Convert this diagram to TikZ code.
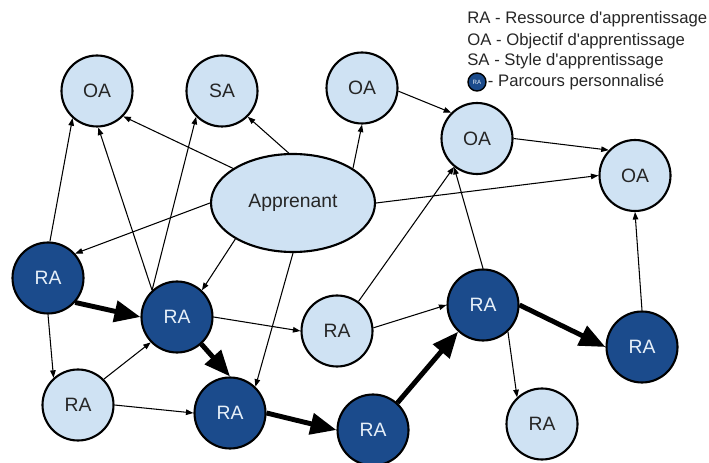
\documentclass[tikz,border=0pt]{standalone}
\usepackage{fontspec}
\setmainfont{Liberation Sans}
\usetikzlibrary{arrows.meta}
\usetikzlibrary{shapes.geometric}
\definecolor{clair}{HTML}{CFE2F3}
\definecolor{fonce}{HTML}{1B4B8C}

\begin{document}
\begin{tikzpicture}[
        bulle/.style={circle, draw, line width=1.2pt, minimum size=1.42cm, inner sep=0pt,
            fill=clair, text=black!85, font=\fontsize{11}{13}\selectfont},
        perso/.style={bulle, fill=fonce, text=clair!50!white},
        lien/.style={-{Triangle[length=1.5mm, width=1.1mm]}, line width=0.6pt},
        parcours/.style={-{Triangle[length=5.2mm, width=4.2mm]}, line width=2.8pt},
        legende/.style={anchor=west, inner sep=0pt, text=black!85, font=\fontsize{9.5}{11}\selectfont}]
            \useasboundingbox (0,0) rectangle (14.18,9.24);
            \node[bulle]                 (oa_1) at (1.94,7.42)  {OA};
            \node[bulle]                 (sa)   at (4.44,7.42)  {SA};
            \node[bulle]                 (oa_2) at (7.24,7.48)  {OA};
            \node[bulle]                 (oa_3) at (9.54,6.47)  {OA};
            \node[bulle]                 (oa_4) at (12.70,5.73) {OA};
            \node[ellipse, draw, line width=1.2pt, fill=clair, text=black!85,
                  minimum width=3.28cm, minimum height=1.96cm,
                  font=\fontsize{11}{13}\selectfont] (app) at (5.86,5.18) {Apprenant};
            \node[perso]                 (ra_1) at (0.96,3.68)  {RA};
            \node[perso]                 (ra_2) at (3.54,2.90)  {RA};
            \node[bulle]                 (ra_3) at (1.56,1.14)  {RA};
            \node[perso]                 (ra_4) at (4.60,0.98)  {RA};
            \node[bulle]                 (ra_5) at (6.74,2.62)  {RA};
            \node[perso]                 (ra_6) at (9.66,3.14)  {RA};
            \node[perso]                 (ra_7) at (7.46,0.64)  {RA};
            \node[bulle]                 (ra_8) at (10.84,0.76) {RA};
            \node[perso]                 (ra_9) at (12.84,2.30) {RA};
            % legende
            \node[legende]               (leg_ra) at (9.34,8.86) {RA - Ressource d\textquotesingle apprentissage};
            \node[legende]               (leg_oa) at (9.34,8.42) {OA - Objectif d\textquotesingle apprentissage};
            \node[legende]               (leg_sa) at (9.34,8.02) {SA - Style d\textquotesingle apprentissage};
            \node[circle, draw, line width=0.8pt, fill=fonce, minimum size=0.36cm, inner sep=0pt,
                  text=clair!50!white, font=\fontsize{3.5}{4}\selectfont] (leg_rond) at (9.54,7.60) {RA};
            \node[legende]               (leg_pp) at ([xshift=0.5pt]leg_rond.east) {- Parcours personnalisé};
            \path[lien]
            (ra_1.87)  edge (oa_1.228)
            (ra_2.133) edge (oa_1.272)
            (ra_2.133) edge (sa.225)
            (app.150)  edge (oa_1.316)
            (app.95)   edge (sa.315)
            (app.30)   edge (oa_2.270)
            (app.0)    edge (oa_4.180)
            (app.180)  edge (ra_1.42)
            (app.212)  edge (ra_2.47)
            (app.270)  edge (ra_4.46)
            (oa_2.-5)  edge (oa_3.135)
            (oa_3.0)   edge (oa_4.136)
            (ra_5.54)  edge (oa_3.231)
            (ra_6.90)  edge (oa_3.231)
            (ra_9.90)  edge (oa_4.270)
            (ra_1.270) edge (ra_3.132)
            (ra_3.45)  edge (ra_2.224)
            (ra_3.0)   edge (ra_4.180)
            (ra_2.0)   edge (ra_5.180)
            (ra_5.5)   edge (ra_6.180)
            (ra_6.-47) edge (ra_8.133);
            \path[parcours]
            (ra_1.-42) edge (ra_2.180)
            (ra_2.-48) edge (ra_4.90)
            (ra_4.0)   edge (ra_7.180)
            (ra_7.48)  edge (ra_6.227)
            (ra_6.0)   edge (ra_9.180);
        \end{tikzpicture}
\end{document}
